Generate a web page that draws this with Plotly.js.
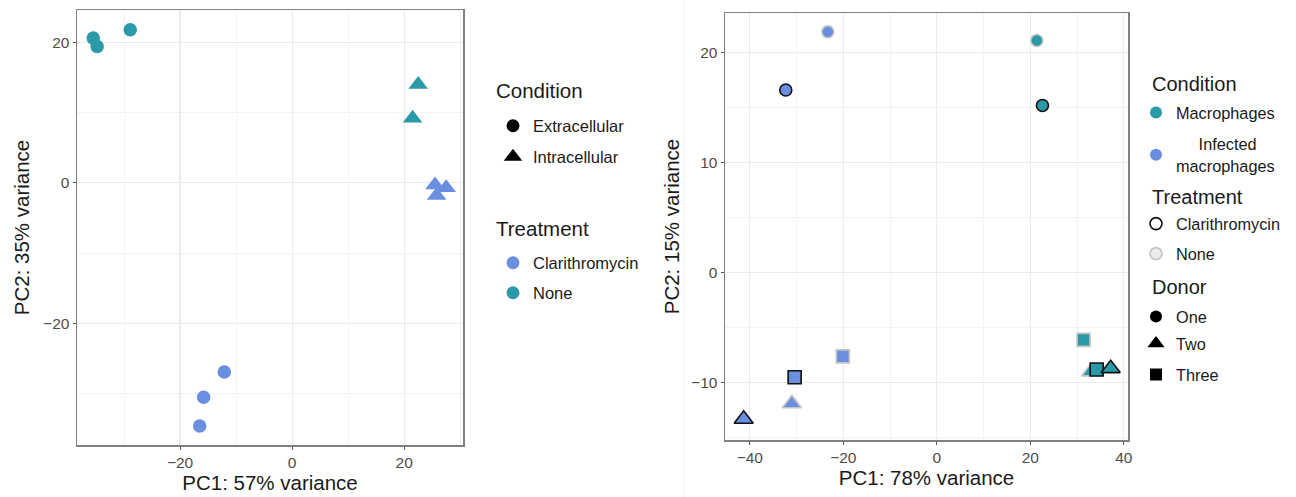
<!DOCTYPE html>
<html>
<head>
<meta charset="utf-8">
<script src="https://cdn.plot.ly/plotly-3.0.1.min.js"></script>
<style>html,body{margin:0;padding:0;background:#fff;}#chart{width:1296px;height:497px;}</style>
</head>
<body>
<div id="chart"></div>
<script>
// ---------- Left panel data ----------
const leftPC1 = [-35.5, -34.8, -28.9, 22.5, 21.5, 25.5, 27.5, 25.8, -12.1, -15.8, -16.5];
const leftPC2 = [20.6, 19.4, 21.8, 14.0, 9.2, -0.3, -0.7, -1.8, -26.9, -30.5, -34.6];
const leftCondition = ['Extracellular','Extracellular','Extracellular','Intracellular','Intracellular','Intracellular','Intracellular','Intracellular','Extracellular','Extracellular','Extracellular'];
const leftTreatment = ['None','None','None','None','None','Clarithromycin','Clarithromycin','Clarithromycin','Clarithromycin','Clarithromycin','Clarithromycin'];
const leftConditionLevels = ['Extracellular','Intracellular'];
const leftTreatmentLevels = ['Clarithromycin','None'];

// ---------- Right panel data ----------
const rightPC1 = [-32.3, -23.3, 21.4, 22.6, 31.4, 33.0, 34.2, 37.2, -20.1, -30.4, -31.0, -41.3];
const rightPC2 = [16.6, 21.9, 21.1, 15.2, -6.1, -9.0, -8.8, -8.7, -7.6, -9.5, -11.9, -13.3];
const rightCondition = ['Infected macrophages','Infected macrophages','Macrophages','Macrophages','Macrophages','Macrophages','Macrophages','Macrophages','Infected macrophages','Infected macrophages','Infected macrophages','Infected macrophages'];
const rightTreatment = ['Clarithromycin','None','None','Clarithromycin','None','None','Clarithromycin','Clarithromycin','None','Clarithromycin','None','Clarithromycin'];
const rightDonor = ['One','One','One','One','Three','Two','Three','Two','Three','Three','Two','Two'];
const rightConditionLevels = ['Macrophages','Infected macrophages'];
const rightTreatmentLevels = ['Clarithromycin','None'];
const rightDonorLevels = ['One','Two','Three'];

// ---------- styles ----------
const TEAL = '#2a9aa8';
const BLUE = '#6b8fe0';
const FONT = 'Liberation Sans, Arial, sans-serif';
const leftShape = {Extracellular:'circle', Intracellular:'triangle-up'};
const leftColor = {Clarithromycin:BLUE, None:TEAL};
const rightColor = {'Macrophages':TEAL, 'Infected macrophages':BLUE};
const rightOutline = {Clarithromycin:'#111111', None:'#c4c4c4'};
const rightShape = {One:'circle', Two:'triangle-up', Three:'square'};
const rightSize = {One:12, Two:16.5, Three:13};

const traces = [];
// left data
traces.push({
  type:'scatter', mode:'markers', x:leftPC1, y:leftPC2, xaxis:'x', yaxis:'y', showlegend:false, hoverinfo:'skip',
  marker:{
    symbol:leftCondition.map(c=>leftShape[c]),
    color:leftTreatment.map(t=>leftColor[t]),
    size:leftCondition.map(c=>c==='Intracellular'?17:13.5),
    opacity:1,
    line:{width:0}
  }
});
// right data
traces.push({
  type:'scatter', mode:'markers', x:rightPC1, y:rightPC2, xaxis:'x2', yaxis:'y2', showlegend:false, hoverinfo:'skip',
  marker:{
    symbol:rightDonor.map(d=>rightShape[d]),
    color:rightCondition.map(c=>rightColor[c]),
    size:rightDonor.map(d=>rightSize[d]),
    opacity:1,
    line:{color:rightTreatment.map(t=>rightOutline[t]), width:1.6}
  }
});

// ---------- legends (one item per legend for exact spacing) ----------
const legends = {};
let li = 1;
function addLegendItem(name, marker, px, py, fontSize){
  const key = li===1 ? 'legend' : 'legend'+li;
  legends[key] = {
    x: px/1296, y: 1-py/497, xanchor:'left', yanchor:'middle',
    bgcolor:'rgba(0,0,0,0)', borderwidth:0,
    font:{family:FONT, size:fontSize, color:'#1a1a1a'},
    itemclick:false, itemdoubleclick:false
  };
  marker.opacity = 1;
  traces.push({type:'scatter', mode:'markers', x:[null], y:[null], name:name, showlegend:true, legend:key, marker:marker, hoverinfo:'skip'});
  li++;
}
const LX = 493, RX = 1136;
const leftCondY = [126,157];
leftConditionLevels.forEach((c,i)=>addLegendItem(c,{symbol:leftShape[c], color:'#000', size:c==='Intracellular'?16:13}, LX, leftCondY[i], 16.5));
const leftTreatY = [263,293];
leftTreatmentLevels.forEach((t,i)=>addLegendItem(t,{symbol:'circle', color:leftColor[t], size:13}, LX, leftTreatY[i], 16.5));

const rightCondY = [113,155];
rightConditionLevels.forEach((c,i)=>addLegendItem(c==='Infected macrophages' ? '&nbsp;&nbsp;&nbsp;&nbsp;&nbsp;Infected<br>macrophages' : c,
  {symbol:'circle', color:rightColor[c], size:12}, RX, rightCondY[i], 16.3));
const rightTreatY = [224,254];
rightTreatmentLevels.forEach((t,i)=>addLegendItem(t,{symbol:'circle', color:t==='None'?'#ebebeb':'#ffffff', size:12, line:{color:rightOutline[t], width:1.6}}, RX, rightTreatY[i], 16.3));
const rightDonorY = [317,344,375];
rightDonorLevels.forEach((d,i)=>addLegendItem(d,{symbol:rightShape[d], color:'#000', size:d==='Two'?15:12}, RX, rightDonorY[i], 16.3));

// ---------- axes ----------
function axis(extra){
  return Object.assign({
    showline:true, mirror:true, linecolor:'#808080', linewidth:1.5,
    ticks:'outside', ticklen:3, tickwidth:1, tickcolor:'#555',
    showgrid:true, gridcolor:'#ebebeb', gridwidth:1.2, zeroline:false,
    tickfont:{family:FONT, size:15.5, color:'#4d4d4d'},
    automargin:false, fixedrange:true
  }, extra);
}
const TITLEFONT = {family:FONT, size:20.5, color:'#1a1a1a'};

const layout = Object.assign({
  width:1296, height:497, margin:{l:0,r:0,t:0,b:0},
  paper_bgcolor:'#ffffff', plot_bgcolor:'#ffffff',
  font:{family:FONT},
  xaxis: axis({domain:[77/1296, 463/1296], anchor:'y', range:[-38.4,30.5], dtick:20, tick0:0,
    minor:{dtick:10, showgrid:true, gridcolor:'#f3f3f3', gridwidth:1},
    title:{text:'PC1: 57% variance', font:TITLEFONT, standoff:5}}),
  yaxis: axis({domain:[1-445/497, 1-10/497], anchor:'x', range:[-37.3,24.6], dtick:20, tick0:0,
    minor:{dtick:10, showgrid:true, gridcolor:'#f3f3f3', gridwidth:1},
    title:{text:'PC2: 35% variance', font:TITLEFONT, standoff:8}}),
  xaxis2: axis({domain:[725/1296, 1128/1296], anchor:'y2', range:[-45.3,40.9], dtick:20, tick0:0,
    minor:{dtick:10, showgrid:true, gridcolor:'#f3f3f3', gridwidth:1},
    title:{text:'PC1: 78% variance', font:TITLEFONT, standoff:2}}),
  yaxis2: axis({domain:[1-440/497, 1-13/497], anchor:'x2', range:[-15.2,23.6], dtick:10, tick0:0,
    minor:{dtick:5, showgrid:true, gridcolor:'#f3f3f3', gridwidth:1},
    title:{text:'PC2: 15% variance', font:TITLEFONT, standoff:6}}),
  shapes:[{type:'line', xref:'paper', yref:'paper', x0:684/1296, x1:684/1296, y0:0, y1:1, line:{color:'#f0f0f0', width:1}}],
  annotations:[
    {text:'Condition', x:494/1296, y:1-91/497},
    {text:'Treatment', x:494/1296, y:1-228/497},
    {text:'Condition', x:1150/1296, y:1-84/497, size:20},
    {text:'Treatment', x:1150/1296, y:1-197/497, size:20},
    {text:'Donor', x:1150/1296, y:1-287/497, size:20}
  ].map(a=>({text:a.text, x:a.x, y:a.y, xref:'paper', yref:'paper', xanchor:'left', yanchor:'middle', showarrow:false,
    font:{family:FONT, size:a.size||20.5, color:'#1a1a1a'}}))
}, legends);

Plotly.newPlot('chart', traces, layout, {staticPlot:true, displayModeBar:false});
</script>
</body>
</html>
